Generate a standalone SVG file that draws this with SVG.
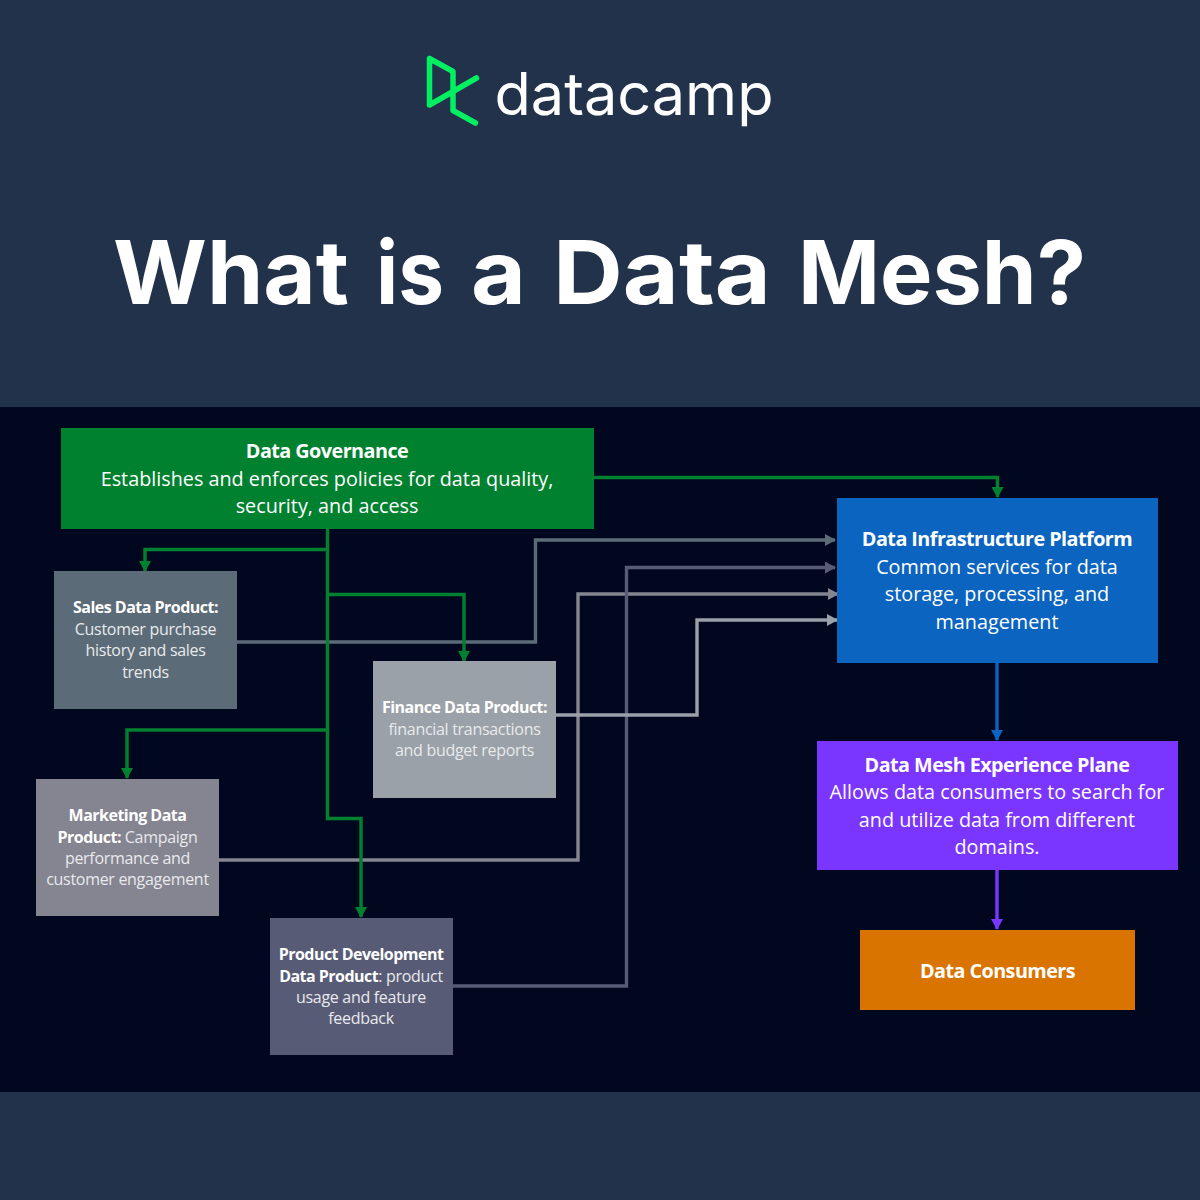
<svg xmlns="http://www.w3.org/2000/svg" width="1200" height="1200" viewBox="0 0 1200 1200">
<style>
text{font-family:"Open Sans","Noto Sans","Liberation Sans",sans-serif;text-anchor:middle;fill:#fff}
.big{font-size:19.800px}
.big.b{letter-spacing:-0.550px}
.small{font-size:16px;fill:#e8eaec;letter-spacing:-0.300px}
.small.b,.small .b{fill:#fff;font-weight:700;letter-spacing:-0.520px}
.b{font-weight:700}
.c{fill:none;stroke-width:3.400}
.g{stroke:#00812f}
</style>
<defs>
<marker id="mg" markerUnits="userSpaceOnUse" markerWidth="12" markerHeight="12" refX="10" refY="6" orient="auto"><path d="M0 0L11 6L0 12Z" fill="#00812f"/></marker>
<marker id="mb" markerUnits="userSpaceOnUse" markerWidth="12" markerHeight="12" refX="10" refY="6" orient="auto"><path d="M0 0L11 6L0 12Z" fill="#0b64c0"/></marker>
<marker id="mp" markerUnits="userSpaceOnUse" markerWidth="12" markerHeight="12" refX="10" refY="6" orient="auto"><path d="M0 0L11 6L0 12Z" fill="#7a35ff"/></marker>
<marker id="m1" markerUnits="userSpaceOnUse" markerWidth="12" markerHeight="12" refX="10" refY="6" orient="auto"><path d="M0 0L11 6L0 12Z" fill="#5c6b78"/></marker>
<marker id="m2" markerUnits="userSpaceOnUse" markerWidth="12" markerHeight="12" refX="10" refY="6" orient="auto"><path d="M0 0L11 6L0 12Z" fill="#9aa1a8"/></marker>
<marker id="m3" markerUnits="userSpaceOnUse" markerWidth="12" markerHeight="12" refX="10" refY="6" orient="auto"><path d="M0 0L11 6L0 12Z" fill="#858491"/></marker>
<marker id="m4" markerUnits="userSpaceOnUse" markerWidth="12" markerHeight="12" refX="10" refY="6" orient="auto"><path d="M0 0L11 6L0 12Z" fill="#585b76"/></marker>
</defs>
<rect width="1200" height="1200" fill="#22324b"/>
<rect y="407" width="1200" height="685" fill="#00071f"/>
<g id="logo">
<path d="M429.500 58.500L453 71.500V110.500L475.500 123M429.500 58.500V105L476.500 78" fill="none" stroke="#03ef62" stroke-width="5.500" stroke-linejoin="round" stroke-linecap="round"/>
<text x="634" y="115" style="font-family:Inter,'Liberation Sans',sans-serif;font-size:59px;font-weight:400" textLength="279" lengthAdjust="spacingAndGlyphs">datacamp</text>
</g>
<text id="title" y="304" style="font-family:Inter,'Liberation Sans',sans-serif;font-size:88px;font-weight:700;text-anchor:start"><tspan x="113" textLength="236" lengthAdjust="spacingAndGlyphs">What</tspan> <tspan x="376" textLength="68" lengthAdjust="spacingAndGlyphs">is</tspan> <tspan x="471" textLength="55" lengthAdjust="spacingAndGlyphs">a</tspan> <tspan x="553" textLength="218" lengthAdjust="spacingAndGlyphs">Data</tspan> <tspan x="798" textLength="288" lengthAdjust="spacingAndGlyphs">Mesh?</tspan></text>
<g id="connectors">
<path class="c" d="M237 642H535.500V540H835" stroke="#5c6b78" marker-end="url(#m1)"/>
<path class="c" d="M219 860H578V594H838" stroke="#858491" marker-end="url(#m3)"/>
<path class="c" d="M453 986H626.500V567.500H835" stroke="#585b76" marker-end="url(#m4)"/>
<path class="c" d="M556 715H697V620H837" stroke="#9aa1a8" marker-end="url(#m2)"/>
<path class="c g" d="M327.500 529V818.500H361V917" marker-end="url(#mg)"/>
<path class="c g" d="M327.500 549.500H145V571" marker-end="url(#mg)"/>
<path class="c g" d="M327.500 594.500H464V661" marker-end="url(#mg)"/>
<path class="c g" d="M327.500 730H127V778" marker-end="url(#mg)"/>
<path class="c g" d="M594 477.500H997.500V497" marker-end="url(#mg)"/>
<path class="c" d="M997 663V740" stroke="#0b64c0" marker-end="url(#mb)"/>
<path class="c" d="M997 870V929" stroke="#7a35ff" marker-end="url(#mp)"/>
</g>
<g id="governance"><rect x="61" y="428" width="533" height="101" fill="#00812f"/>
<text x="327" y="458" class="big b">Data Governance</text><text x="327" y="486" class="big">Establishes and enforces policies for data quality,</text><text x="327" y="513" class="big">security, and access</text></g>
<g id="sales"><rect x="54" y="571" width="183" height="138" fill="#5c6b78"/>
<text x="145.500" y="613" class="small b">Sales Data Product:</text><text x="145.500" y="635" class="small">Customer purchase</text><text x="145.500" y="656" class="small">history and sales</text><text x="145.500" y="678" class="small">trends</text></g>
<g id="finance"><rect x="373" y="661" width="183" height="137" fill="#9aa1a8"/>
<text x="464.500" y="713" class="small b">Finance Data Product:</text><text x="464.500" y="735" class="small">financial transactions</text><text x="464.500" y="756" class="small">and budget reports</text></g>
<g id="marketing"><rect x="36" y="779" width="183" height="137" fill="#858491"/>
<text x="127.500" y="821" class="small b">Marketing Data</text><text x="127.500" y="843" class="small"><tspan class="b">Product:</tspan> Campaign</text><text x="127.500" y="864" class="small">performance and</text><text x="127.500" y="885" class="small">customer engagement</text></g>
<g id="product"><rect x="270" y="918" width="183" height="137" fill="#585b76"/>
<text x="361" y="960" class="small b">Product Development</text><text x="361" y="982" class="small"><tspan class="b">Data Product</tspan>: product</text><text x="361" y="1003" class="small">usage and feature</text><text x="361" y="1024" class="small">feedback</text></g>
<g id="infrastructure"><rect x="837" y="498" width="321" height="165" fill="#0b64c0"/>
<text x="997" y="546" class="big b">Data Infrastructure Platform</text><text x="997" y="574" class="big">Common services for data</text><text x="997" y="601" class="big">storage, processing, and</text><text x="997" y="629" class="big">management</text></g>
<g id="experience"><rect x="817" y="741" width="361" height="129" fill="#7a35ff"/>
<text x="997" y="772" class="big b">Data Mesh Experience Plane</text><text x="997" y="799" class="big">Allows data consumers to search for</text><text x="997" y="827" class="big">and utilize data from different</text><text x="997" y="854" class="big">domains.</text></g>
<g id="consumers"><rect x="860" y="930" width="275" height="80" fill="#d97400"/>
<text x="997.500" y="978" class="big b">Data Consumers</text></g>
</svg>
